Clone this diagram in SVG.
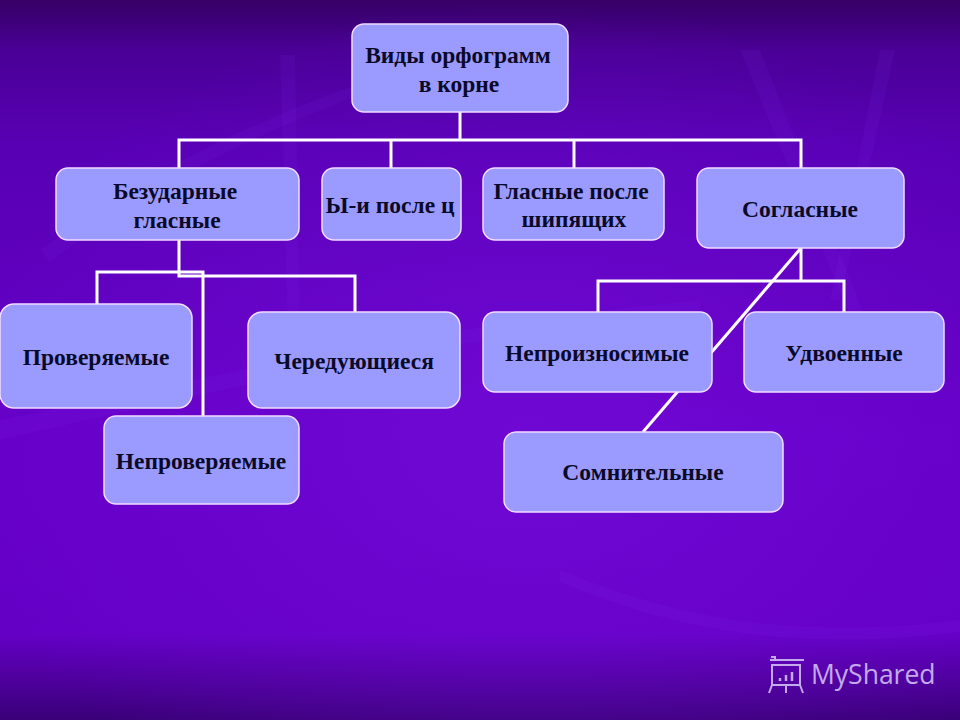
<svg xmlns="http://www.w3.org/2000/svg" width="960" height="720" viewBox="0 0 960 720">
<defs>
<linearGradient id="bg" x1="0" y1="0" x2="0" y2="1">
<stop offset="0" stop-color="#360066"/>
<stop offset="0.07" stop-color="#4a0096"/>
<stop offset="0.2" stop-color="#5800b4"/>
<stop offset="0.6" stop-color="#6600c8"/>
<stop offset="0.88" stop-color="#6400c6"/>
<stop offset="1" stop-color="#3a0078"/>
</linearGradient>
<radialGradient id="glow" cx="0.55" cy="0.6" r="0.6">
<stop offset="0" stop-color="#7a10e0" stop-opacity="0.5"/>
<stop offset="1" stop-color="#7a10e0" stop-opacity="0"/>
</radialGradient>
<style>
.box{fill:#9b9bff;stroke:#f2dcff;stroke-width:1.5}
.t{font-family:"Liberation Serif","Times New Roman",serif;font-weight:bold;font-size:23.5px;fill:#0a0a28;text-anchor:middle}
.c{fill:none;stroke:#ffffff;stroke-width:3}
.streak{fill:#8a40ff;opacity:0.08}
</style>
</defs>
<rect width="960" height="720" fill="url(#bg)"/>
<rect width="960" height="720" fill="url(#glow)"/>
<g id="background-streaks">
<path class="streak" d="M740 50 L760 50 L870 330 L860 340 Z"/>
<path class="streak" d="M880 50 L895 50 L840 300 L830 300 Z"/>
<path class="streak" d="M280 55 L295 55 L300 330 L288 330 Z"/>
<path class="streak" d="M0 420 C200 380 400 330 700 300 L700 310 C400 345 200 395 0 440 Z"/>
<path class="streak" d="M40 250 C150 170 250 120 400 70 L405 78 C260 130 160 180 50 262 Z"/>
<path class="streak" d="M560 570 C680 620 800 640 960 620 L960 632 C800 652 680 632 560 582 Z"/>
</g>
<g id="connectors">
<polyline class="c" points="460,112 460,140"/>
<polyline class="c" points="179,168 179,140 801,140 801,168"/>
<polyline class="c" points="391,140 391,168"/>
<polyline class="c" points="574,140 574,168"/>
<polyline class="c" points="179,240 179,276 355,276 355,312"/>
<polyline class="c" points="97,304 97,272 203,272 203,416"/>
<polyline class="c" points="801,248 801,281"/>
<polyline class="c" points="598,312 598,281 844,281 844,312"/>
<line class="c" x1="801" y1="248" x2="643" y2="432"/>
</g>
<g id="node-root">
<rect class="box" x="352" y="24" width="216" height="88" rx="12"/>
<text class="t" x="458" y="63">Виды орфограмм</text>
<text class="t" x="459" y="92">в корне</text>
</g>
<g id="node-bezudarnye">
<rect class="box" x="56" y="168" width="243" height="72" rx="12"/>
<text class="t" x="175" y="199">Безударные</text>
<text class="t" x="177" y="228">гласные</text>
</g>
<g id="node-y-i">
<rect class="box" x="322" y="168" width="139" height="72" rx="12"/>
<text class="t" x="390" y="213">Ы-и после ц</text>
</g>
<g id="node-glasnye-shipyashchie">
<rect class="box" x="483" y="168" width="181" height="72" rx="12"/>
<text class="t" x="571" y="199">Гласные после</text>
<text class="t" x="574" y="227">шипящих</text>
</g>
<g id="node-soglasnye">
<rect class="box" x="697" y="168" width="207" height="80" rx="12"/>
<text class="t" x="800" y="217">Согласные</text>
</g>
<g id="node-proveryaemye">
<rect class="box" x="0" y="304" width="192" height="104" rx="14"/>
<text class="t" x="96" y="365">Проверяемые</text>
</g>
<g id="node-nodeproveryaemye">
<rect class="box" x="104" y="416" width="195" height="88" rx="12"/>
<text class="t" x="201" y="469">Непроверяемые</text>
</g>
<g id="node-chereduyushchiesya">
<rect class="box" x="248" y="312" width="212" height="96" rx="14"/>
<text class="t" x="354" y="369">Чередующиеся</text>
</g>
<g id="node-soglasnye-lower">
<rect class="box" x="483" y="312" width="229" height="80" rx="12"/>
<text class="t" x="597" y="361">Непроизносимые</text>
</g>
<g id="node-udvoennye">
<rect class="box" x="744" y="312" width="200" height="80" rx="12"/>
<text class="t" x="844" y="361">Удвоенные</text>
</g>
<g id="node-somnitelnye">
<rect class="box" x="504" y="432" width="279" height="80" rx="12"/>
<text class="t" x="643" y="480">Сомнительные</text>
</g>
<g id="watermark" opacity="0.85">
<g fill="none" stroke="#d8c8f8" stroke-width="2">
<rect x="772" y="665" width="28" height="20"/>
<path d="M770 660 h34 M775 660 v-3 h-4 M772 685 l-3 8 M800 685 l3 8 M786 685 v8"/>
<path d="M780 681 v-3 M786 681 v-6 M792 681 v-9" stroke-width="2.5"/>
</g>
<text x="811" y="684" font-family="'Open Sans','Noto Sans',sans-serif" font-size="26.5" fill="#d8c8f8">MyShared</text>
</g>
</svg>
